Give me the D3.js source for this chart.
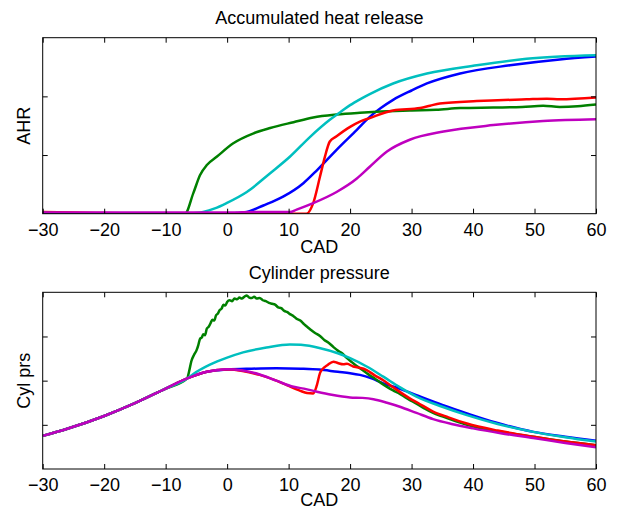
<!DOCTYPE html>
<html>
<head>
<meta charset="utf-8">
<script src="https://cdnjs.cloudflare.com/ajax/libs/d3/7.8.5/d3.min.js"></script>
<style>
  body { margin: 0; background: #fff; }
  text { font-family: "Liberation Sans", Arial, Helvetica, sans-serif; }
  .tick text { font-size: 18px; fill: #000; }
  .tick line { stroke: #000; }
</style>
</head>
<body>
<div id="container"></div>
<script>
// Data: [CAD, value]
var cadTicks = [-30, -20, -10, 0, 10, 20, 30, 40, 50, 60];

// Accumulated heat release
var ahrBlue = [[-30,0.01],[-20,0],[-10,0],[0,0],[1.5,0.01],[3.2,0.03],[5.9,0.14],[9.1,0.29],[12.4,0.52],
  [14.6,0.74],[17.8,1.09],[21.1,1.43],[23.2,1.65],[25,1.8],[27,1.94],[30,2.1],[32.5,2.22],[37.9,2.39],
  [46,2.53],[54.1,2.63],[60,2.68]];
var ahrGreen = [[-30,0],[-15,0],[-6.85,0],[-5.5,0.35],[-4.4,0.66],[-3.3,0.83],[-1.7,0.97],[1,1.2],[4.3,1.37],
  [7,1.46],[10.8,1.56],[14,1.64],[17.8,1.69],[21.6,1.72],[25,1.74],[29.7,1.76],[34,1.77],[37.9,1.8],
  [43.3,1.81],[48,1.82],[51.4,1.84],[54.1,1.82],[57,1.83],[60,1.86]];
var ahrRed = [[-30,0.03],[-25,0.02],[-20,0.01],[-10,0],[0,0],[10,0],[12.9,0],[14,0.18],[15.1,0.63],
  [15.9,0.97],[16.7,1.23],[17.8,1.32],[20,1.48],[21.6,1.57],[23.2,1.63],[27,1.76],[31.4,1.8],[33,1.84],
  [34.6,1.88],[40.6,1.92],[43,1.93],[48.7,1.95],[52,1.96],[54.1,1.95],[60,1.98]];
var ahrCyan = [[-30,0.01],[-15,0],[-7,0],[-5,0.01],[-3.9,0.03],[-2,0.09],[-0.1,0.18],[3.2,0.37],[7,0.69],
  [10.2,0.97],[13.5,1.31],[16.7,1.6],[18.4,1.73],[20,1.85],[21.6,1.95],[23.2,2.04],[27,2.22],[32.5,2.39],
  [40.6,2.53],[48.7,2.64],[60,2.7]];
var ahrMagenta = [[-30,0.02],[-20,0.02],[-10,0.02],[0,0.02],[5,0.03],[10.2,0.03],[11.3,0.07],[14,0.18],
  [17.8,0.37],[21.1,0.6],[23.2,0.8],[26,1.06],[29.7,1.26],[35.2,1.4],[43.3,1.51],[51.4,1.58],[60,1.61]];

// Cylinder pressure
var prsMotored = [[-30,0.75],[-26,0.91],[-20,1.2],[-15,1.49],[-10,1.82],[-6.5,2.05]];
var prsBlue = prsMotored.concat([[-3.3,2.2],[0,2.25],[4,2.27],[8,2.28],[12,2.27],[15,2.25],[18,2.2],
  [20,2.17],[21.6,2.13],[23.5,2.05],[25.4,1.94],[28,1.82],[30.8,1.67],[35,1.45],[39,1.26],[44,1.04],
  [49.8,0.84],[55,0.73],[60,0.64]]);
var prsGreen = prsMotored.concat([[-6.2,2.2],[-5.8,2.45],[-5.4,2.58],[-5,2.68],[-4.7,2.8],[-4.4,2.95],
  [-4.1,2.98],[-3.9,3.05],[-3.6,3.03],[-3.3,3.18],[-3,3.22],[-2.7,3.3],[-2.4,3.38],[-2.1,3.36],[-1.8,3.48],
  [-1.5,3.52],[-1.2,3.6],[-0.9,3.63],[-0.6,3.72],[-0.3,3.7],[0,3.78],[0.4,3.82],[0.8,3.8],[1.2,3.86],
  [1.6,3.84],[2,3.88],[2.4,3.86],[2.8,3.9],[3.2,3.93],[3.6,3.88],[4,3.87],[4.4,3.9],[4.8,3.86],[5.3,3.87],
  [5.8,3.82],[6.3,3.8],[6.8,3.76],[7.3,3.74],[7.8,3.72],[8.3,3.66],[8.8,3.64],[9.3,3.58],[9.8,3.55],
  [10.3,3.5],[10.8,3.46],[11.3,3.4],[11.9,3.36],[12.5,3.28],[13.1,3.21],[13.7,3.14],[14.3,3.08],[15.1,3.01],
  [15.8,2.92],[16.5,2.86],[17.3,2.76],[18,2.68],[18.7,2.62],[19.4,2.52],[20.1,2.44],[20.8,2.36],[21.6,2.28],
  [22.4,2.2],[23.2,2.12],[24,2.05],[25,1.95],[26,1.86],[27,1.78],[28.1,1.7],[29,1.62],[30,1.54],[31,1.46],
  [32,1.38],[33.5,1.27],[35,1.19],[37,1.09],[39,1],[42,0.9],[45,0.83],[49.8,0.73],[55,0.62],[60,0.54]]);
var prsRed = prsMotored.concat([[-3.3,2.2],[0,2.25],[2.5,2.22],[5.3,2.13],[8,2],[9.7,1.9],[11.9,1.77],
  [13,1.72],[14,1.71],[14.6,1.9],[15.1,2.17],[15.5,2.26],[16.3,2.35],[17.3,2.43],[18,2.4],[18.9,2.37],
  [19.5,2.38],[20.5,2.32],[21.2,2.3],[22.7,2.24],[24,2.12],[25.4,2.01],[27,1.85],[29.7,1.6],[31,1.5],
  [33.5,1.3],[36,1.17],[39,1.03],[44,0.87],[49.8,0.73],[55,0.62],[60,0.54]]);
var prsCyan = prsMotored.concat([[-5.5,2.15],[-2.8,2.36],[0,2.52],[2.6,2.64],[6.4,2.75],[10.2,2.82],
  [12,2.81],[15,2.74],[18,2.62],[20,2.51],[22.7,2.32],[25.4,2.09],[28,1.86],[30.8,1.64],[35,1.41],
  [39,1.22],[44,1.02],[49.8,0.84],[55,0.72],[60,0.62]]);
var prsMagenta = prsMotored.concat([[-3.3,2.2],[0,2.26],[2.5,2.23],[5.3,2.14],[8,2],[10.8,1.86],
  [12.5,1.82],[14.6,1.75],[17,1.68],[20,1.62],[22,1.61],[23.8,1.58],[26,1.5],[28.1,1.41],[30.8,1.27],
  [33.5,1.13],[36.5,1.02],[40,0.92],[44.5,0.81],[49.8,0.7],[55,0.59],[60,0.49]]);

var w = 617, h = 509;
var left = 42.7, right = 596;

var svg = d3.select("#container").append("svg")
  .attr("width", w)
  .attr("height", h);

function panel(id, top, bottom, yMax, yTicks, title, yLabel, series) {
  var x = d3.scaleLinear().domain([-30, 60]).range([left, right]);
  var y = d3.scaleLinear().domain([0, yMax]).range([bottom, top]);

  svg.append("clipPath").attr("id", id)
    .append("rect")
    .attr("x", left).attr("y", top)
    .attr("width", right - left).attr("height", bottom - top);

  var line = d3.line()
    .x(function(d) { return x(d[0]); })
    .y(function(d) { return y(d[1]); })
    .curve(d3.curveMonotoneX);

  var g = svg.append("g").attr("clip-path", "url(#" + id + ")");
  series.forEach(function(s) {
    g.append("path")
      .attr("d", line(s.data))
      .attr("fill", "none")
      .attr("stroke", s.color)
      .attr("stroke-width", 2.5)
      .attr("stroke-linejoin", "round");
  });

  // axes, ticks pointing in
  var xb = svg.append("g").attr("transform", "translate(0," + bottom + ")")
    .call(d3.axisBottom(x).tickValues(cadTicks).tickSizeInner(-5).tickSizeOuter(0).tickPadding(9.5));
  svg.append("g").attr("transform", "translate(0," + top + ")")
    .call(d3.axisTop(x).tickValues(cadTicks).tickSizeInner(-5).tickSizeOuter(0).tickFormat(""));
  svg.append("g").attr("transform", "translate(" + left + ",0)")
    .call(d3.axisLeft(y).tickValues(yTicks).tickSizeInner(-5).tickSizeOuter(0).tickFormat(""));
  svg.append("g").attr("transform", "translate(" + right + ",0)")
    .call(d3.axisRight(y).tickValues(yTicks).tickSizeInner(-5).tickSizeOuter(0).tickFormat(""));
  svg.selectAll(".domain").remove();
  xb.selectAll("text").attr("font-size", 18);

  svg.append("rect")
    .attr("x", left).attr("y", top)
    .attr("width", right - left).attr("height", bottom - top)
    .attr("fill", "none")
    .attr("stroke", "#000")
    .attr("stroke-width", 1);

  svg.append("text")
    .attr("x", (left + right) / 2)
    .attr("y", top - 13.7)
    .attr("text-anchor", "middle")
    .attr("font-size", 18)
    .text(title);

  svg.append("text")
    .attr("x", (left + right) / 2)
    .attr("y", Math.min(bottom + 39, h - 3))
    .attr("text-anchor", "middle")
    .attr("font-size", 18)
    .text("CAD");

  svg.append("text")
    .attr("transform", "translate(29.5," + ((top + bottom) / 2) + ") rotate(-90)")
    .attr("text-anchor", "middle")
    .attr("font-size", 18)
    .text(yLabel);
}

panel("clipTop", 37.7, 213.7, 3, [1, 2], "Accumulated heat release", "AHR", [
  { data: ahrBlue, color: "#0000ff" },
  { data: ahrGreen, color: "#008000" },
  { data: ahrRed, color: "#ff0000" },
  { data: ahrCyan, color: "#00bfbf" },
  { data: ahrMagenta, color: "#bf00bf" }
]);

panel("clipBottom", 292.3, 469, 4, [1, 2, 3], "Cylinder pressure", "Cyl prs", [
  { data: prsBlue, color: "#0000ff" },
  { data: prsGreen, color: "#008000" },
  { data: prsRed, color: "#ff0000" },
  { data: prsCyan, color: "#00bfbf" },
  { data: prsMagenta, color: "#bf00bf" }
]);
</script>
</body>
</html>
